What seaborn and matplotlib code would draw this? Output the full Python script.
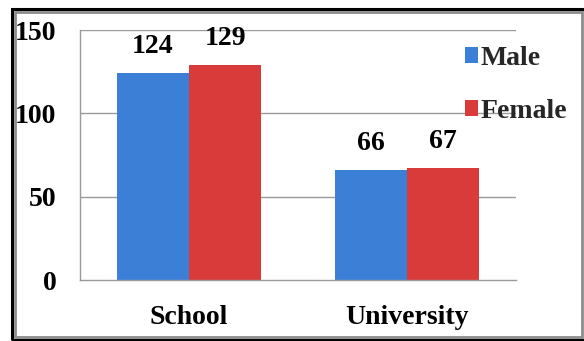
import matplotlib
matplotlib.use("Agg")
import matplotlib.pyplot as plt
from matplotlib.patches import Rectangle, Patch
from matplotlib.ticker import FixedLocator
import pandas as pd
import seaborn as sns

categories = ["School", "University"]
groups = ["Male", "Female"]
male_counts = [124, 66]
female_counts = [129, 67]
y_ticks = [0, 50, 100, 150]

colors = {"Male": "#3B7FD6", "Female": "#D93B3A"}

df = pd.DataFrame({
    "level": categories * 2,
    "sex": ["Male"] * len(categories) + ["Female"] * len(categories),
    "count": male_counts + female_counts,
})

sns.set_theme(style="white")
plt.rcParams["font.family"] = "serif"
plt.rcParams["font.serif"] = ["Liberation Serif", "DejaVu Serif"]
plt.rcParams["font.weight"] = "bold"

FS = 20

W, H = 584, 341
fig = plt.figure(figsize=(W / 100, H / 100), dpi=100)
fig.patch.set_facecolor("white")
ax = fig.add_axes([80 / W, 1 - 280 / H, (516 - 80) / W, (280 - 30) / H])

sns.barplot(data=df, x="level", y="count", hue="sex", order=categories,
            hue_order=groups, palette=colors, width=0.665, saturation=1,
            edgecolor="none", linewidth=0, ax=ax, legend=False)

ax.set_xlim(-0.5, len(categories) - 0.5)
ax.set_ylim(0, 150)
ax.set_yticks(y_ticks)
ax.set_xlabel("")
ax.set_ylabel("")

grid_col = "#9A9A9A"
for v in y_ticks[1:]:
    ax.axhline(v, color=grid_col, lw=1.0, zorder=0.5)

for side in ["top", "right"]:
    ax.spines[side].set_visible(False)
for side in ["left", "bottom"]:
    ax.spines[side].set_color(grid_col)
    ax.spines[side].set_linewidth(1.0)

ax.tick_params(axis="y", length=6, width=1, color=grid_col, pad=11,
               labelsize=FS, labelcolor="black")
ax.tick_params(axis="x", which="major", length=0, pad=18,
               labelsize=FS, labelcolor="black")
ax.xaxis.set_minor_locator(FixedLocator([-0.5, 0.5, 1.5]))
ax.tick_params(axis="x", which="minor", length=7, width=1, color=grid_col)
for lab in ax.get_xticklabels() + ax.get_yticklabels():
    lab.set_fontweight("bold")
    lab.set_family("serif")

for cont in ax.containers:
    ax.bar_label(cont, fmt="%d", padding=10, fontsize=FS,
                 fontweight="bold", color="black", family="serif")

handles = [Patch(facecolor=colors[g], edgecolor="none") for g in groups]
ax.legend(handles, groups, loc="upper left",
          bbox_to_anchor=(465 / W, 1 - 46 / H), bbox_transform=fig.transFigure,
          frameon=False, handlelength=0.45, handleheight=0.5,
          handletextpad=0.1, labelspacing=1.0, borderpad=0, borderaxespad=0,
          prop={"family": "serif", "weight": "bold", "size": FS})

# frame around the whole figure: dark outer line with a grey inner line
fig.patches.append(Rectangle((12 / W, 1 - 339.5 / H), 1.2, (339.5 - 8.5) / H,
                             transform=fig.transFigure, fill=False,
                             edgecolor="black", lw=2.2, zorder=10))
fig.patches.append(Rectangle((14.5 / W, 1 - 336.5 / H), (581.5 - 14.5) / W,
                             (336.5 - 11.5) / H, transform=fig.transFigure,
                             fill=False, edgecolor="#8C8C8C", lw=2.0, zorder=10))

fig.savefig("out.png", dpi=100, facecolor="white")
